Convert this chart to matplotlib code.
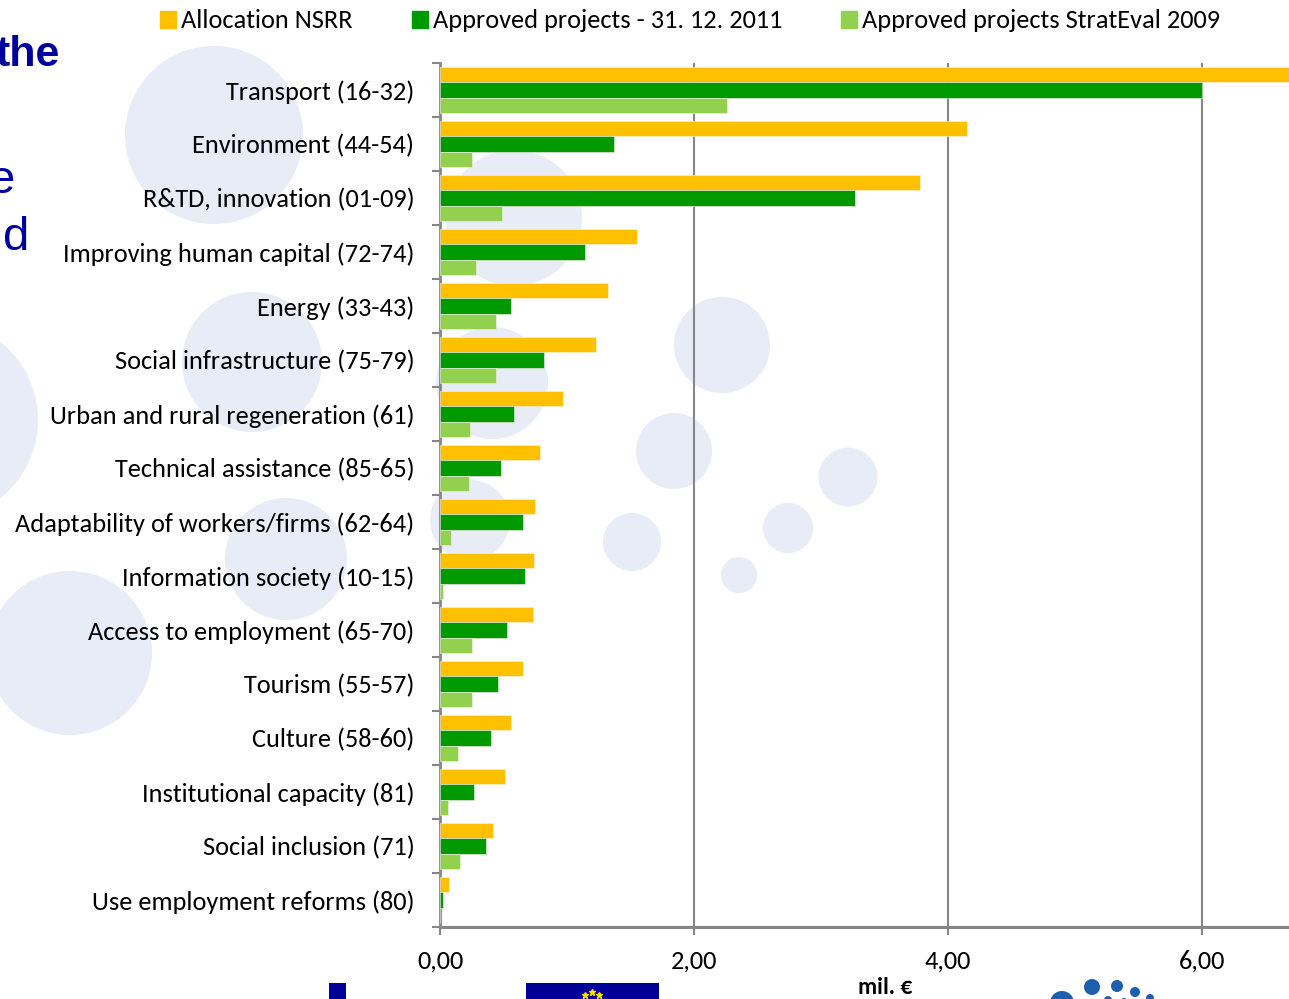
import numpy as np
import matplotlib
matplotlib.use("Agg")
import matplotlib.pyplot as plt
from matplotlib.patches import Patch, Circle, Rectangle

plt.rcParams['font.family'] = ['Carlito', 'Lato', 'DejaVu Sans']

categories = [
    "Transport (16-32)", "Environment (44-54)", "R&TD, innovation (01-09)",
    "Improving human capital (72-74)", "Energy (33-43)", "Social infrastructure (75-79)",
    "Urban and rural regeneration (61)", "Technical assistance (85-65)",
    "Adaptability of workers/firms (62-64)", "Information society (10-15)",
    "Access to employment (65-70)", "Tourism (55-57)", "Culture (58-60)",
    "Institutional capacity (81)", "Social inclusion (71)", "Use employment reforms (80)",
]
allocation_nsrr = [6.90, 4.15, 3.78, 1.55, 1.32, 1.23, 0.97, 0.79, 0.75, 0.74, 0.73, 0.65, 0.56, 0.51, 0.42, 0.07]
approved_2011 = [6.00, 1.37, 3.27, 1.14, 0.56, 0.82, 0.58, 0.48, 0.65, 0.67, 0.53, 0.46, 0.40, 0.27, 0.36, 0.02]
approved_2009 = [2.26, 0.25, 0.49, 0.28, 0.44, 0.44, 0.24, 0.23, 0.09, 0.02, 0.25, 0.25, 0.14, 0.06, 0.16, 0.00]
series_names = ["Allocation NSRR", "Approved projects - 31. 12. 2011", "Approved projects StratEval 2009"]
series_colors = ["#FFC000", "#009900", "#92D050"]
xticks = [0, 2, 4, 6]
xticklabels = ["0,00", "2,00", "4,00", "6,00"]

W, H = 1289, 999
fig = plt.figure(figsize=(W / 100, H / 100), dpi=100)

# background decoration (slide)
bg = fig.add_axes([0, 0, 1, 1], zorder=0)
bg.set_xlim(0, W)
bg.set_ylim(H, 0)
bg.axis('off')
circ_col = "#E8ECF7"
for (cx, cy, r) in [(214, 135, 89), (514, 218, 68), (252, 362, 70), (-62, 420, 100),
                    (70, 653, 82), (286, 559, 61), (470, 520, 40), (492, 383, 56),
                    (722, 345, 48), (674, 451, 38), (848, 477, 29.5), (632, 542, 29),
                    (788, 528, 25), (739, 575, 18)]:
    bg.add_patch(Circle((cx, cy), r, color=circ_col, lw=0))
bg.text(-5, 66, "the", fontsize=31, fontweight='bold', color="#00009A",
        family='Liberation Sans', ha='left', va='baseline')
bg.text(15, 193, "e", fontsize=34, color="#00009A", family='Liberation Sans',
        ha='right', va='baseline')
bg.text(29, 250, "d", fontsize=34, color="#00009A", family='Liberation Sans',
        ha='right', va='baseline')
bg.add_patch(Rectangle((329, 983), 17, 20, color="#000099", lw=0))
bg.add_patch(Rectangle((526, 983), 133, 20, color="#000099", lw=0))
for (sx, sy) in [(585, 995), (592, 992), (599, 995)]:
    bg.plot(sx, sy, marker='*', color="#FFDD00", markersize=5)
for (dx, dy, dr) in [(1062, 1003, 12), (1092, 987, 8), (1117, 986, 6), (1135, 992, 5),
                     (1150, 998, 4), (1108, 1000, 4), (1124, 1001, 3)]:
    bg.add_patch(Circle((dx, dy), dr, color="#1B5FAE", lw=0))
bg.text(885, 994, "mil. €", fontsize=17, fontweight='bold', ha='center', va='baseline')

# main chart
ax = fig.add_axes([440 / W, (H - 927) / H, (W - 440) / W, (927 - 63) / H], zorder=1)
ax.set_facecolor('none')
n = len(categories)
y = np.arange(n)
h = 0.285
for i, (vals, col, name) in enumerate(zip([allocation_nsrr, approved_2011, approved_2009],
                                           series_colors, series_names)):
    ax.barh(y + (i - 1) * h, vals, height=h, color=col, edgecolor='#F4F4E8',
            linewidth=0.4, label=name, zorder=3)

ax.set_xlim(0, (W - 440) / 127.0)
ax.set_ylim(n - 0.5, -0.5)
ax.set_xticks(xticks)
ax.set_xticklabels(xticklabels)
ax.set_yticks(y)
ax.set_yticklabels(categories)
ax.set_yticks(np.arange(n + 1) - 0.5, minor=True)
ax.tick_params(axis='y', which='major', length=0, pad=18.5, labelsize=19)
ax.tick_params(axis='y', which='minor', length=6, width=1.5, color='#868686', direction='out')
ax.tick_params(axis='x', which='major', length=6, width=1.5, color='#868686',
               direction='out', pad=10, labelsize=19)
for x in xticks[1:]:
    ax.axvline(x, color='#868686', lw=1.5, zorder=1)
for s in ['top', 'right']:
    ax.spines[s].set_visible(False)
ax.spines['left'].set_color('#868686')
ax.spines['left'].set_linewidth(2)
ax.spines['bottom'].set_color('#868686')
ax.spines['bottom'].set_linewidth(2.2)

handles = [Patch(color=c, label=nm) for c, nm in zip(series_colors, series_names)]
fig.legend(handles=handles, loc='center left', bbox_to_anchor=(160 / W, 1 - 21 / H),
           ncol=3, frameon=False, fontsize=19, handlelength=0.6, handleheight=0.6,
           handletextpad=0.19, columnspacing=2.25, borderpad=0, borderaxespad=0)

fig.savefig("out.png", dpi=100)
